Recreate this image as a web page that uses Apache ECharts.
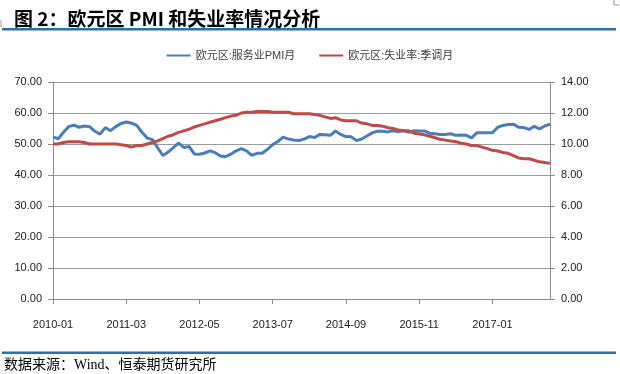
<!DOCTYPE html>
<html>
<head>
<meta charset="utf-8">
<script src="https://cdn.jsdelivr.net/npm/echarts@6/dist/echarts.min.js"></script>
<style>
html,body{margin:0;padding:0;background:#fff;}
#c{width:620px;height:374px;}
</style>
</head>
<body>
<div id="c"></div>
<script>
// Months 2010-01 .. 2017-12
var categories = [];
for (var y = 2010; y <= 2017; y++) {
  for (var m = 1; m <= 12; m++) {
    categories.push(y + '-' + (m < 10 ? '0' + m : m));
  }
}
var seriesNames = ['欧元区:服务业PMI月', '欧元区:失业率:季调月'];
// Eurozone services PMI (left axis)
var pmi = [
  52.3, 51.7, 53.8, 55.6, 56.1, 55.4, 55.8, 55.6, 54.1, 53.2, 55.3, 54.3,
  55.6, 56.6, 57.1, 56.7, 56.0, 53.8, 51.9, 51.4, 48.8, 46.3, 47.4, 48.8,
  50.3, 48.9, 49.2, 46.8, 46.7, 47.1, 47.8, 47.2, 46.1, 45.9, 46.7, 47.8,
  48.5, 47.8, 46.3, 47.0, 47.0, 48.3, 49.8, 50.8, 52.2, 51.6, 51.3, 51.1,
  51.6, 52.4, 52.1, 53.1, 53.0, 52.8, 54.2, 53.1, 52.4, 52.3, 51.1, 51.6,
  52.6, 53.6, 54.1, 54.1, 53.9, 54.3, 54.0, 54.3, 53.8, 54.3, 54.2, 54.2,
  53.5, 53.3, 53.1, 53.1, 53.3, 52.8, 52.9, 52.8, 52.0, 53.6, 53.6, 53.6,
  53.6, 55.4, 56.0, 56.3, 56.4, 55.4, 55.3, 54.7, 55.7, 54.9, 55.8, 56.4
];
// Eurozone unemployment rate, seasonally adjusted (right axis, %)
var unemp = [
  10.0, 10.0, 10.1, 10.15, 10.15, 10.15, 10.1, 10.0, 10.0, 10.0, 10.0, 10.0,
  10.0, 9.95, 9.9, 9.8, 9.9, 9.9, 10.0, 10.1, 10.2, 10.35, 10.5, 10.6,
  10.75, 10.85, 10.95, 11.1, 11.2, 11.3, 11.4, 11.5, 11.6, 11.7, 11.8, 11.85,
  12.0, 12.05, 12.05, 12.1, 12.1, 12.1, 12.05, 12.05, 12.05, 12.05, 11.95, 11.95,
  11.95, 11.95, 11.9, 11.85, 11.75, 11.65, 11.7, 11.55, 11.5, 11.5, 11.5, 11.35,
  11.3, 11.2, 11.2, 11.15, 11.05, 11.0, 10.9, 10.85, 10.85, 10.7, 10.65, 10.6,
  10.5, 10.4, 10.3, 10.25, 10.2, 10.15, 10.05, 10.0, 9.9, 9.9, 9.8, 9.7,
  9.6, 9.55, 9.45, 9.4, 9.25, 9.1, 9.05, 9.05, 8.95, 8.85, 8.8, 8.75
];
var titleText = '图 2：欧元区 PMI 和失业率情况分析';
var sourceText = '数据来源：Wind、恒泰期货研究所';

var chart = echarts.init(document.getElementById('c'), null, {renderer: 'canvas'});
var axisLabelStyle = {color: '#1a1a1a', fontSize: 11, fontFamily: 'Liberation Sans, Arial, sans-serif'};
chart.setOption({
  animation: false,
  backgroundColor: '#fff',
  title: {
    text: titleText,
    left: 9, top: 4,
    textStyle: {fontSize: 19, fontWeight: 'bold', color: '#000', fontFamily: '"Noto Sans CJK SC", sans-serif'}
  },
  legend: {
    data: seriesNames,
    top: 45,
    left: 'center',
    icon: 'rect',
    itemWidth: 24,
    itemHeight: 2,
    itemGap: 24,
    textStyle: {color: '#404040', fontSize: 11, fontFamily: 'Liberation Sans, "Noto Sans CJK SC", sans-serif'}
  },
  grid: {left: 53, right: 70, top: 82, bottom: 75, containLabel: false},
  xAxis: {
    type: 'category',
    data: categories,
    boundaryGap: false,
    axisLine: {lineStyle: {color: '#8c8c8c', width: 1}},
    axisTick: {show: true, interval: 13, length: 5, lineStyle: {color: '#8c8c8c'}},
    axisLabel: Object.assign({interval: 13, margin: 20}, axisLabelStyle),
    splitLine: {show: false}
  },
  yAxis: [
    {
      type: 'value', min: 0, max: 70, interval: 10, position: 'left',
      axisLine: {show: true, lineStyle: {color: '#8c8c8c', width: 1}},
      axisTick: {show: true, length: 5, lineStyle: {color: '#8c8c8c'}},
      axisLabel: Object.assign({margin: 11, formatter: function (v) { return v.toFixed(2); }}, axisLabelStyle),
      splitLine: {show: true, lineStyle: {color: '#9c9c9c', width: 1}}
    },
    {
      type: 'value', min: 0, max: 14, interval: 2, position: 'right',
      axisLine: {show: true, lineStyle: {color: '#8c8c8c', width: 1}},
      axisTick: {show: true, length: 5, lineStyle: {color: '#8c8c8c'}},
      axisLabel: Object.assign({margin: 11, formatter: function (v) { return v.toFixed(2); }}, axisLabelStyle),
      splitLine: {show: false}
    }
  ],
  series: [
    {
      name: seriesNames[0], type: 'line', data: pmi, yAxisIndex: 0,
      symbol: 'none', itemStyle: {color: '#4A7EBB'},
      lineStyle: {color: '#4A7EBB', width: 3}
    },
    {
      name: seriesNames[1], type: 'line', data: unemp, yAxisIndex: 1,
      symbol: 'none', itemStyle: {color: '#BE4B48'},
      lineStyle: {color: '#BE4B48', width: 3}
    }
  ],
  graphic: [
    {type: 'rect', shape: {x: 2, y: 28, width: 614, height: 2.5}, style: {fill: '#2E6DAD'}},
    {type: 'rect', shape: {x: 2, y: 351.5, width: 614, height: 2.5}, style: {fill: '#2E6DAD'}},
    {type: 'line', shape: {x1: 614, y1: 0, x2: 614, y2: 5}, style: {stroke: '#999', lineWidth: 1}},
    {type: 'line', shape: {x1: 614, y1: 5, x2: 619, y2: 5}, style: {stroke: '#999', lineWidth: 1}},
    {type: 'line', shape: {x1: 1, y1: 20, x2: 1, y2: 27}, style: {stroke: '#999', lineWidth: 1}},
    {
      type: 'text', left: 4, top: 358,
      style: {text: sourceText, fill: '#000', font: '14px "Liberation Serif", "Noto Sans CJK SC", serif'}
    }
  ]
});
</script>
</body>
</html>
